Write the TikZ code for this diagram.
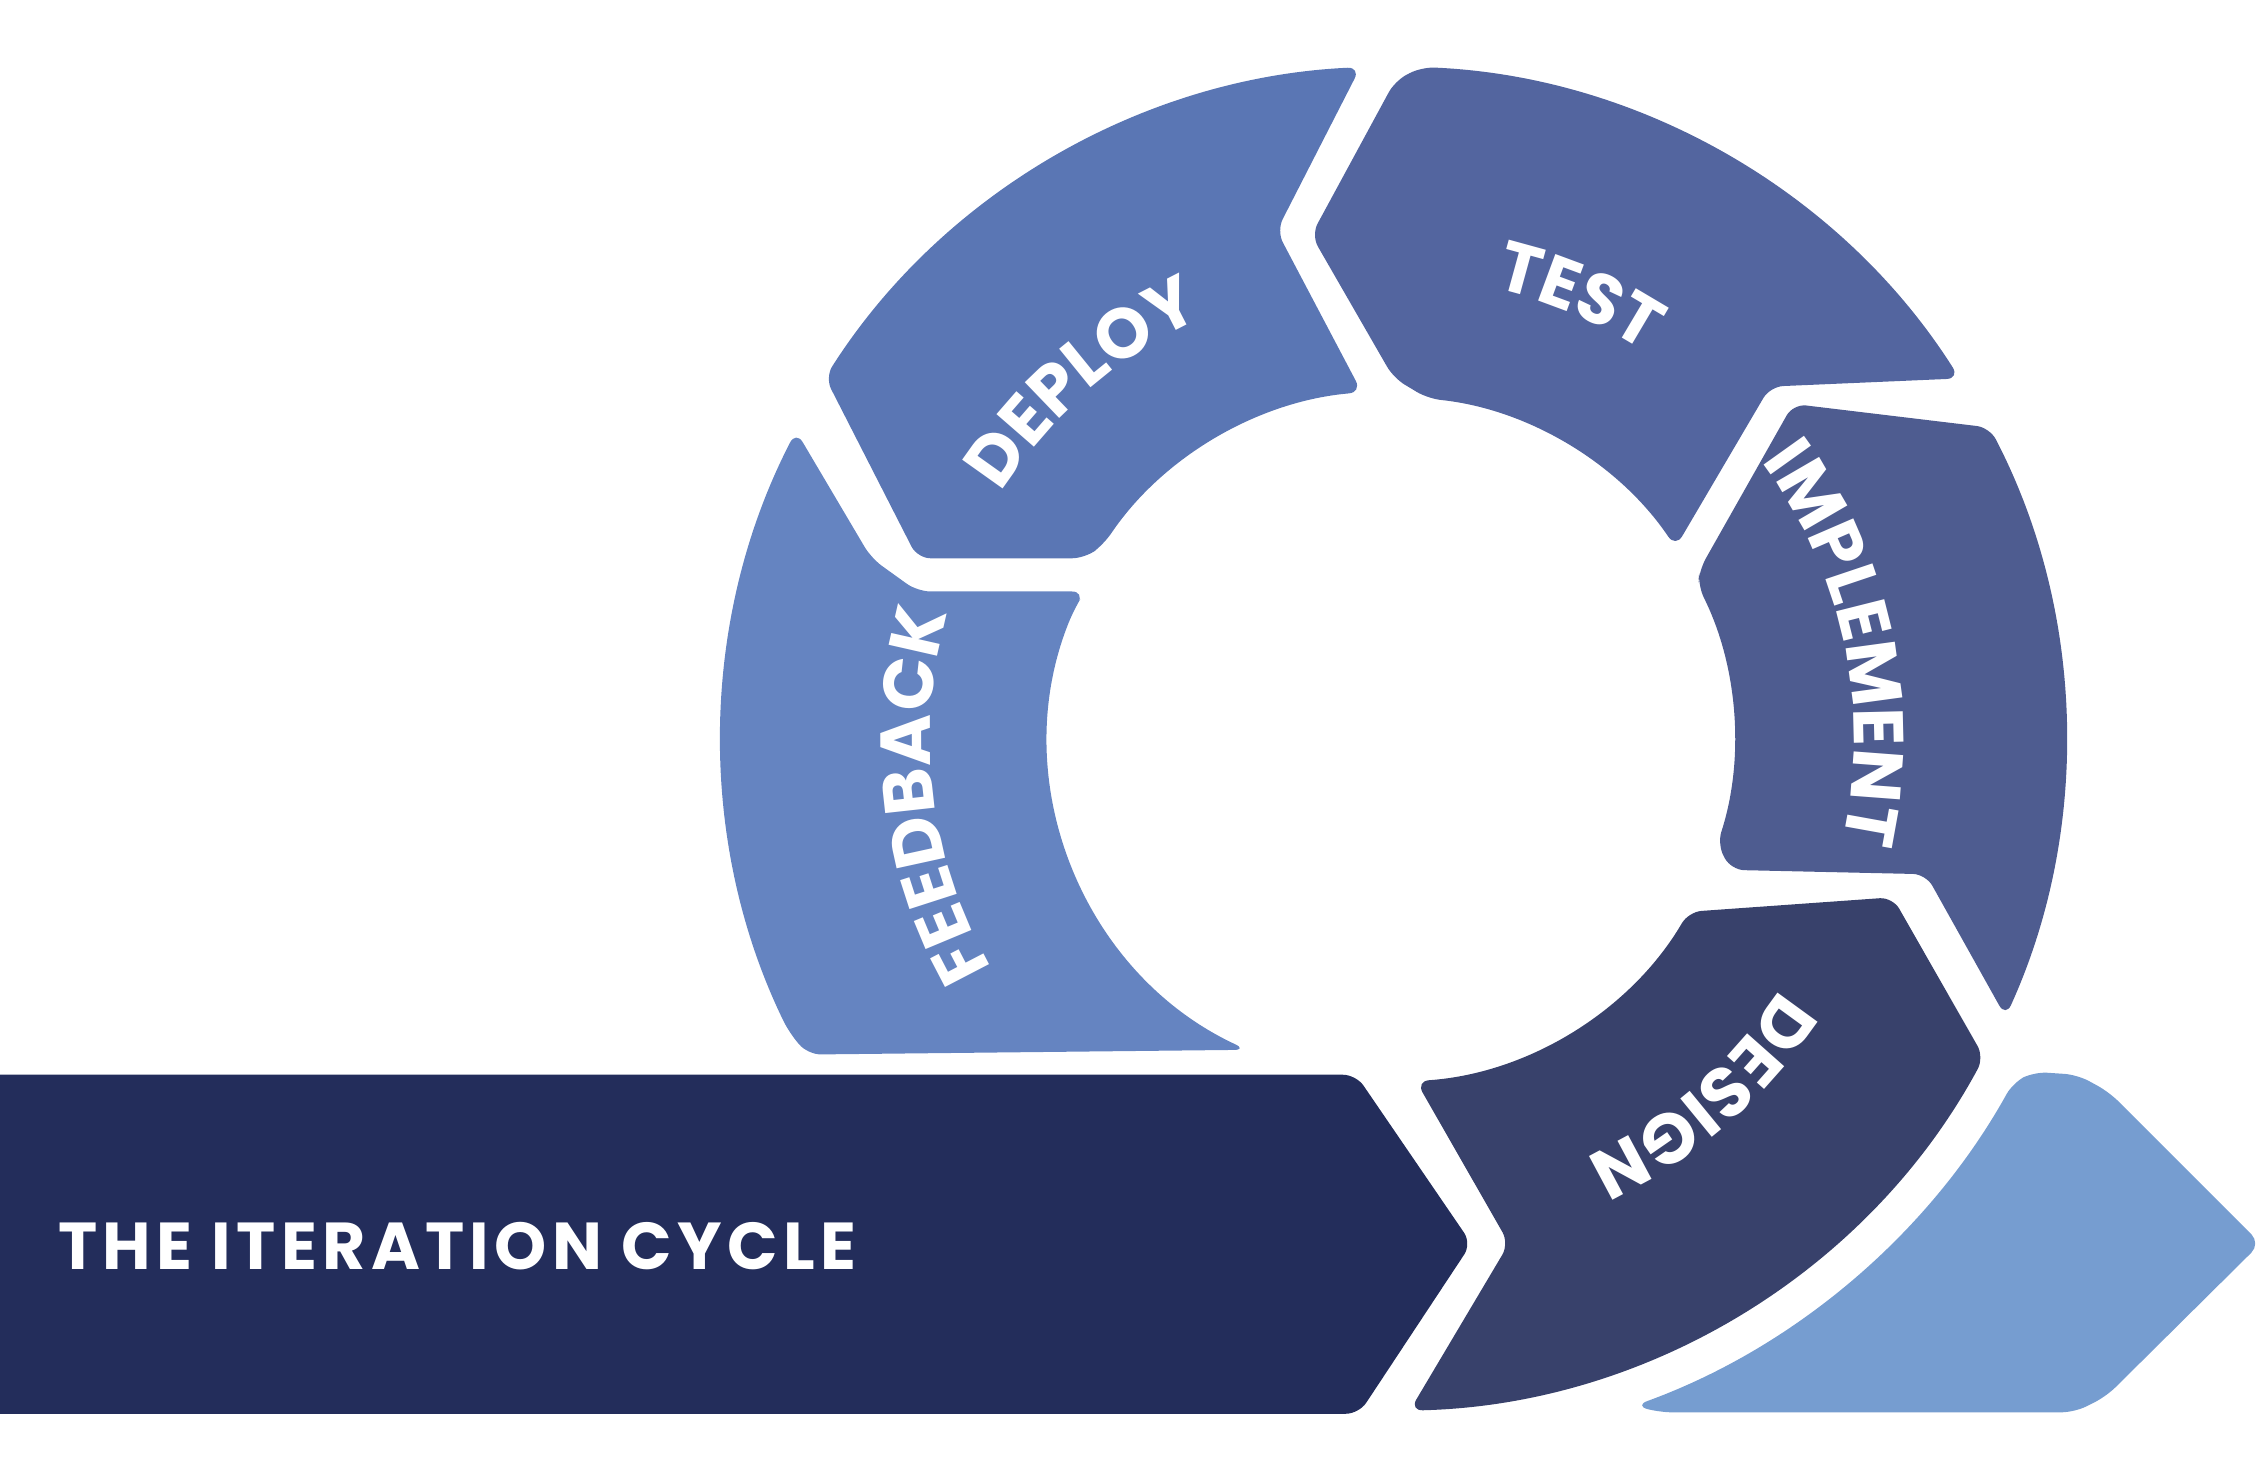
\documentclass[tikz,border=0pt]{standalone}
\usepackage{fontspec}
\setmainfont{Poppins}
\usetikzlibrary{calc,decorations.text}
\definecolor{banner}{HTML}{232D5B}
\definecolor{design}{HTML}{38416B}
\definecolor{implement}{HTML}{4E5C90}
\definecolor{test}{HTML}{53659F}
\definecolor{deploy}{HTML}{5A76B4}
\definecolor{feedback}{HTML}{6584C1}
\definecolor{lightseg}{HTML}{769DD0}
\newcommand\lblfont{\fontsize{24.5}{25}\selectfont\bfseries}

\begin{document}
\begin{tikzpicture}[
  x=0.5pt, y=-0.5pt,
  seg/.style={rounded corners=4.5pt},
  lbl/.style={decorate, decoration={text along path, text align=center, text color=white, text={|\lblfont|#1}}}
]
\useasboundingbox (0,0) rectangle (1568,1027);
\coordinate (C) at (965,512);

\fill[banner, seg] (-30,745) -- (940,745) -- (1020,862) -- (942,980) -- (-30,980) -- cycle;
\fill[lightseg, seg] ($(C)+(70:492)$) arc[start angle=70, end angle=29, radius=492] -- (1410,743) -- (1440,745) -- (1462,757) -- (1567,862) -- (1460,968) -- (1438,979) -- (1150,979) -- cycle;

\fill[feedback, seg] ($(C)+(207.3:465)$) arc[start angle=207.3, end angle=154, radius=465] -- (560,731) -- ($(C)+(115:238)$) arc[start angle=115, end angle=202, radius=238] -- (752,410) -- (636,410) -- (604,387) -- cycle;
\fill[deploy, seg] (636,387) -- ($(C)+(212.5:466)$) arc[start angle=212.5, end angle=267.3, radius=466] -- (885,160) -- ($(C)+(265:241)$) arc[start angle=265, end angle=214, radius=241] -- (752,387) -- cycle;
\fill[test, seg] ($(C)+(276:237)$) arc[start angle=276, end angle=326, radius=237] -- (1227,268) -- ($(C)+(327.6:466)$) arc[start angle=327.6, end angle=272.5, radius=466] -- (967,56) -- (909,163) -- (966,262) -- cycle;
\fill[implement, seg] (1243,280) -- ($(C)+(-27.5:467)$) arc[start angle=-27.5, end angle=24.4, radius=467] -- (1335,606) -- (1200,603) -- ($(C)+(18:237)$) arc[start angle=18, end angle=-26.5, radius=237] -- (1178,395) -- cycle;
\fill[design, seg] (1312,622) -- ($(C)+(28.3:466)$) arc[start angle=28.3, end angle=88.5, radius=466] -- (1046,862) -- ($(C)+(86:238)$) arc[start angle=86, end angle=30.3, radius=238] -- cycle;

\path[lbl=TEST] ($(C)+(253:320)$) arc[start angle=253, end angle=333, radius=320];
\path[lbl=DEPLOY] ($(C)+(189:320)$) arc[start angle=189, end angle=269, radius=320];
\path[lbl=FEEDBACK] ($(C)+(133:320)$) arc[start angle=133, end angle=213, radius=320];
\path[lbl=IMPLEMENT] ($(C)+(308:320)$) arc[start angle=308, end angle=388, radius=320];
\path[lbl=DESIGN] ($(C)+(9:320)$) arc[start angle=9, end angle=89, radius=320];

\node[anchor=base west, inner sep=0pt, text=white, font=\addfontfeature{LetterSpace=8}\fontsize{23}{23}\selectfont\bfseries] (title) at (40,880) {THE ITERATION CYCLE};
\end{tikzpicture}
\end{document}
